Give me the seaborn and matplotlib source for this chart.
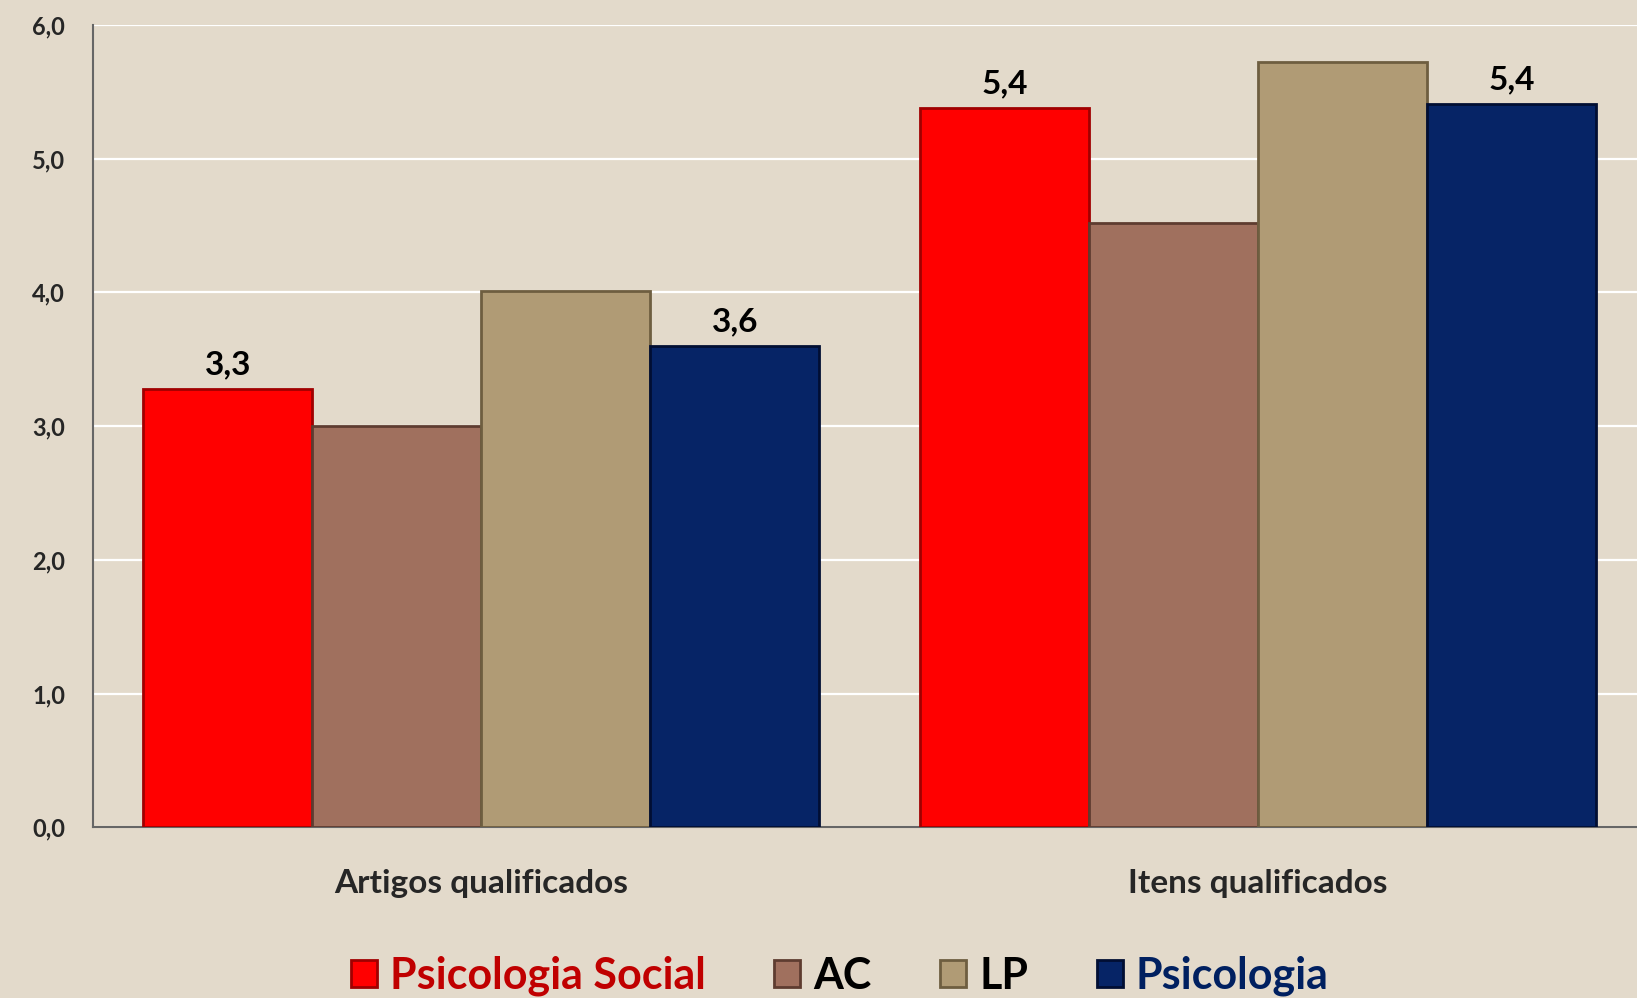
import pandas as pd
import seaborn as sns
import matplotlib.pyplot as plt
from matplotlib.patches import Patch

# data
categorias = ['Artigos qualificados', 'Itens qualificados']
series = ['Psicologia Social', 'AC', 'LP', 'Psicologia']
psi_social = [3.28, 5.38]
ac = [3.0, 4.52]
lp = [4.01, 5.72]
psicologia = [3.60, 5.41]
yticks = [0, 1, 2, 3, 4, 5, 6]
ytick_labels = ['0,0', '1,0', '2,0', '3,0', '4,0', '5,0', '6,0']
rotulos = {'Psicologia Social': ['3,3', '5,4'], 'Psicologia': ['3,6', '5,4']}

cores = ['#FF0000', '#A0705E', '#B09B75', '#062466']
bordas = ['#A00000', '#5E3C30', '#6E5E40', '#010E33']
cores_legenda = ['#C00000', '#000000', '#000000', '#002060']

df = pd.DataFrame({
    'categoria': categorias * 4,
    'serie': [s for s in series for _ in categorias],
    'valor': psi_social + ac + lp + psicologia,
})

sns.set_style('white')
plt.rcParams['font.family'] = ['Lato', 'DejaVu Sans']

fig = plt.figure(figsize=(16.37, 9.98), dpi=100)
fig.patch.set_facecolor('#E3DACB')
ax = fig.add_axes([0.0568, 0.171, 0.949, 0.804])
ax.set_facecolor('#E3DACB')

sns.barplot(data=df, x='categoria', y='valor', hue='serie', order=categorias,
            hue_order=series, palette=cores, width=0.87, gap=0, saturation=1,
            legend=False, ax=ax, zorder=3)

for i, bars in enumerate(ax.containers):
    for b in bars:
        b.set_edgecolor(bordas[i])
        b.set_linewidth(2)
    nome = series[i]
    if nome in rotulos:
        ax.bar_label(bars, labels=rotulos[nome], padding=7, fontsize=24,
                     fontweight='bold', color='black')

ax.set_xlim(-0.5, 1.5)
ax.set_ylim(0, 6)
ax.set_yticks(yticks)
ax.set_yticklabels(ytick_labels, fontsize=17, fontweight='bold')
ax.yaxis.grid(True, color='white', linewidth=1.6, zorder=0)
ax.set_axisbelow(True)
ax.set_xticks([0, 1])
ax.set_xticklabels(categorias, fontsize=24, fontweight='bold')
ax.set_xticks([-0.5, 0.5], minor=True)
ax.tick_params(axis='x', which='major', length=0, pad=30)
ax.tick_params(axis='x', which='minor', length=8, color='#666666', width=1.5)
ax.tick_params(axis='y', length=8, color='#666666', width=1.5, pad=12)
ax.set_xlabel('')
ax.set_ylabel('')
for lado in ['top', 'right']:
    ax.spines[lado].set_visible(False)
for lado in ['left', 'bottom']:
    ax.spines[lado].set_color('#666666')
    ax.spines[lado].set_linewidth(1.5)

handles = [Patch(facecolor=c, edgecolor=e, linewidth=2) for c, e in zip(cores, bordas)]
fig.legend(handles, series, loc='lower center', bbox_to_anchor=(0.513, -0.037),
           ncol=4, frameon=False, labelcolor=cores_legenda,
           handlelength=0.6, handleheight=0.6, handletextpad=0.3, columnspacing=1.6,
           prop={'weight': 'bold', 'size': 31})

fig.savefig('out.png', dpi=100, facecolor=fig.get_facecolor())
